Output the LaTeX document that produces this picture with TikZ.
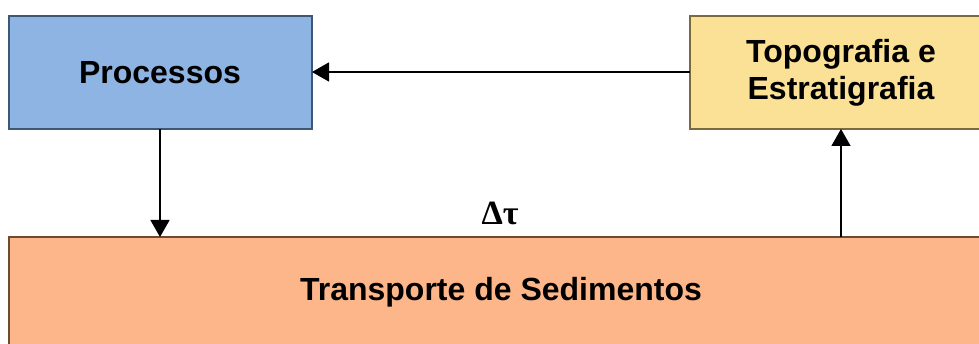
\documentclass[tikz,border=0pt]{standalone}
\usepackage{fontspec}
\setmainfont{Liberation Sans}
\newfontfamily\serifgreek{Liberation Serif}
\usetikzlibrary{arrows.meta}
\definecolor{procfill}{HTML}{8DB4E2}
\definecolor{procdraw}{HTML}{3E5874}
\definecolor{topofill}{HTML}{FBE196}
\definecolor{topodraw}{HTML}{7A6A40}
\definecolor{transfill}{HTML}{FDB68A}
\definecolor{transdraw}{HTML}{6E4A34}
\tikzset{
  boxlbl/.style={font=\fontsize{32}{37}\selectfont\bfseries, align=center, text=black},
  conn/.style={line width=1.4pt, -{Triangle[length=17pt,width=19pt]}},
}
\begin{document}
\begin{tikzpicture}[x=1pt,y=-1pt]
\useasboundingbox (0,0) rectangle (979,344);
\clip (0,0) rectangle (979,344);
\fill[white] (0,0) rectangle (979,344);
% boxes
\draw[fill=procfill, draw=procdraw, line width=1.2pt] (9,16) rectangle (312,129);
\node[boxlbl] (proc) at (160,73) {Processos};
\coordinate (procR) at (312,72);
\coordinate (procB) at (160,129);
\draw[fill=topofill, draw=topodraw, line width=1.2pt] (690,16) rectangle (992,129);
\node[boxlbl] (topo) at (841,72.5) {Topografia e\\Estratigrafia};
\coordinate (topoL) at (690,72);
\coordinate (topoB) at (841,129);
\draw[fill=transfill, draw=transdraw, line width=1.2pt] (9,237) rectangle (992,360);
\node[boxlbl] (trans) at (501,292) {Transporte de Sedimentos};
\coordinate (transT1) at (160,237);
\coordinate (transT2) at (841,237);
% label
\node[font=\fontsize{34}{38}\selectfont\serifgreek\bfseries] (dt) at (500,213) {Δτ};
% connectors
\draw[conn] (topoL) -- (procR);
\draw[conn] (procB) -- (transT1);
\draw[conn] (transT2) -- (topoB);
\end{tikzpicture}
\end{document}
